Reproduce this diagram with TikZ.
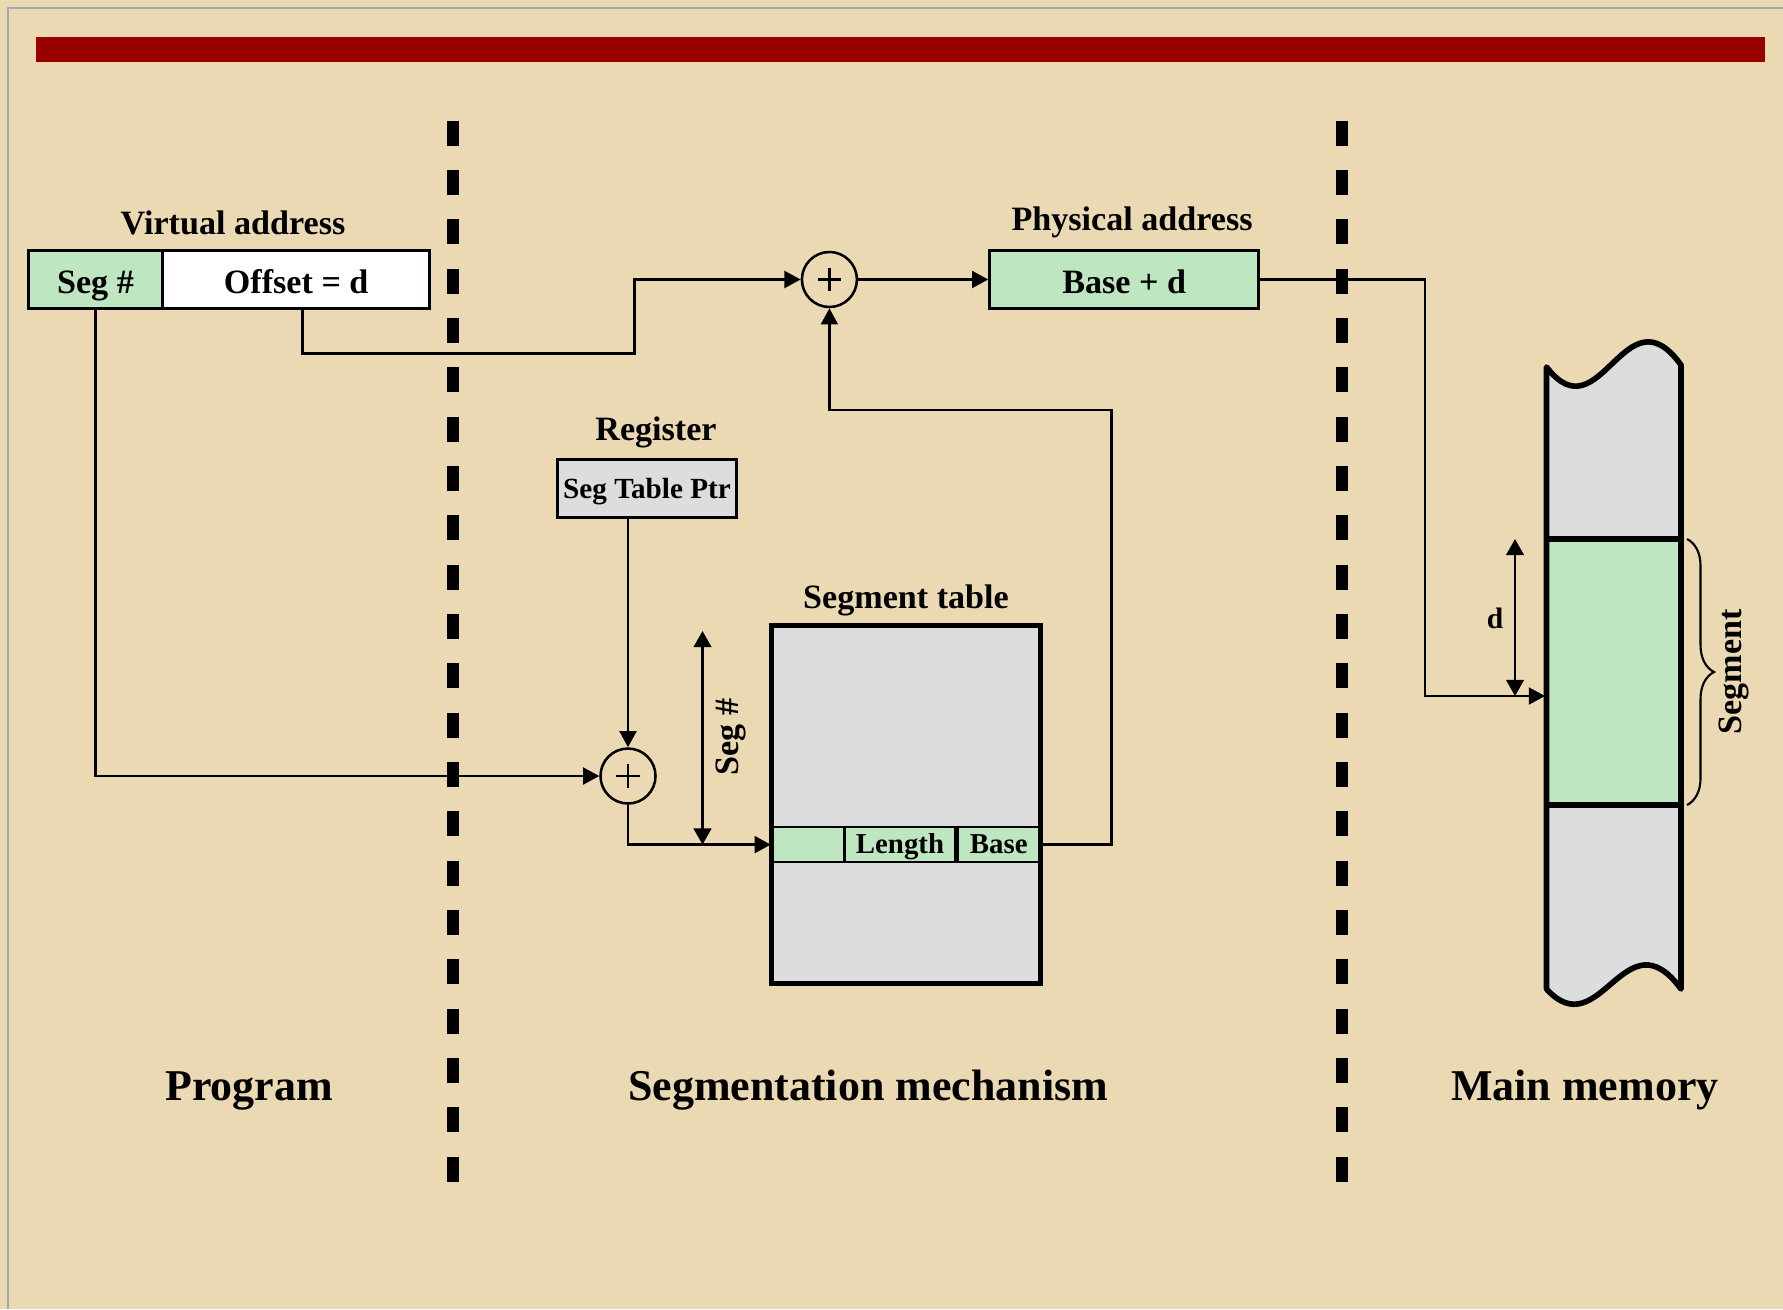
\documentclass[tikz,border=0pt]{standalone}
\usepackage{fontspec}
\setmainfont{Liberation Serif}
\usetikzlibrary{arrows.meta,decorations.pathreplacing,calc}
\definecolor{bgbeige}{RGB}{234,217,178}
\definecolor{barred}{RGB}{153,0,0}
\definecolor{cellgreen}{RGB}{190,230,192}
\definecolor{cellgray}{RGB}{221,221,221}
\definecolor{framegray}{RGB}{165,168,172}
\begin{document}
\begin{tikzpicture}[x=0.01cm,y=-0.01cm,
  txt/.style={font=\fontsize{9.7}{11}\selectfont\bfseries, inner sep=0},
  big/.style={font=\fontsize{12.5}{14}\selectfont\bfseries, inner sep=0},
  box/.style={draw, line width=0.85pt, inner sep=0, text height=1.9ex, text depth=0.2ex, font=\fontsize{9.7}{11}\selectfont\bfseries},
  cell/.style={draw, line width=0.7pt, fill=cellgreen, inner sep=0, minimum height=0.35cm, text height=1.45ex, text depth=0.35ex, font=\fontsize{8.2}{10}\selectfont\bfseries},
  conn/.style={line width=0.72pt},
  arr/.style={conn, -{Triangle[length=4.6pt,width=4.8pt]}},
  darr/.style={conn, {Triangle[length=4.6pt,width=5pt]}-{Triangle[length=4.6pt,width=5pt]}},
  sep/.style={line width=0.123cm, dash pattern=on 0.25cm off 0.243cm},
  adder/.style={circle, draw, line width=0.72pt, minimum size=0.55cm, inner sep=0},
  memline/.style={line width=1.6pt, line join=round}
]
% background and frame
\fill[bgbeige] (0,0) rectangle (1783,1309);
\useasboundingbox (0,0) rectangle (1783,1309);
\draw[framegray, line width=0.6pt] (8,1309) -- (8,8.3) -- (1783,8.3);
\fill[barred] (36.4,37) rectangle (1764.5,62);

% separators
\draw[sep] (452.8,120.7) -- (452.8,1183);
\draw[sep] (1342,120.7) -- (1342,1183);

% virtual address
\node[txt, anchor=base] (vlab) at (233,234) {Virtual address};
\node[box, fill=cellgreen, minimum width=1.342cm, minimum height=0.58cm] (segno) at (95.5,279.5) {Seg \#};
\node[box, fill=white, minimum width=2.672cm, minimum height=0.58cm] (offs) at (296.2,279.5) {Offset = d};

% physical address
\node[txt, anchor=base] (plab) at (1132,230) {Physical address};
\node[box, fill=cellgreen, minimum width=2.688cm, minimum height=0.576cm] (phys) at (1124.2,279.5) {Base + d};

% adders
\node[adder] (p2) at (829.4,279.5) {};
\draw[conn] ([xshift=-0.117cm]p2.center) -- ([xshift=0.117cm]p2.center);
\draw[conn] ([yshift=-0.117cm]p2.center) -- ([yshift=0.117cm]p2.center);
\node[adder] (p1) at (628,776) {};
\draw[conn] ([xshift=-0.117cm]p1.center) -- ([xshift=0.117cm]p1.center);
\draw[conn] ([yshift=-0.117cm]p1.center) -- ([yshift=0.117cm]p1.center);

% register
\node[txt, anchor=base] (rlab) at (656,440) {Register};
\node[box, fill=cellgray, minimum width=1.79cm, minimum height=0.583cm, text height=1.6ex, text depth=0.3ex, font=\fontsize{8.3}{10}\selectfont\bfseries] (reg) at (647,488.2) {Seg Table Ptr};

% segment table
\node[txt, anchor=base] (stlab) at (906,608) {Segment table};
\node[draw=none, fill=cellgray, minimum width=2.68cm, minimum height=3.558cm, inner sep=0] (stab) at (906,804.6) {};
\node[cell, minimum width=0.744cm] (rc1) at (809.2,844.6) {};
\node[cell, minimum width=1.111cm] (rlen) at (900,844.6) {Length};
\node[cell, minimum width=0.825cm] (rbase) at (998.75,844.6) {Base};
\draw[line width=1.4pt] (stab.north west) rectangle (stab.south east);

% memory
\coordinate (memin) at (1545,696);
\fill[cellgray] (1546.5,367) .. controls (1600,437) and (1625,287) .. (1681,365) -- (1681,989) .. controls (1625,912.6) and (1600,1047.6) .. (1546.5,989) -- cycle;
\fill[cellgreen] (1546.5,539) rectangle (1681,805);
\draw[memline] (1546.5,367) .. controls (1600,437) and (1625,287) .. (1681,365) -- (1681,989) .. controls (1625,912.6) and (1600,1047.6) .. (1546.5,989) -- cycle;
\draw[memline] (1546.5,539) -- (1681,539);
\draw[memline] (1546.5,805) -- (1681,805);
\draw[line width=0.6pt, decorate, decoration={brace, amplitude=0.27cm}] (1687,539) -- (1687,805);
\node[txt, rotate=90] (seglab2) at (1734,672) {Segment};
\draw[darr] (1515,539) -- (1515,696);
\node[font=\fontsize{8.4}{9}\selectfont\bfseries, inner sep=0] (dlab) at (1495,618) {d};

% connectors
\draw[arr] (segno.south) |- (p1.west);
\draw[arr] ([xshift=0.063cm]offs.south) |- (634.5,353.6) |- (p2.west);
\draw[arr] (p2.east) -- (phys.west);
\draw[arr] (phys.east) -- (1425,279.5) |- (memin);
\draw[arr] (p1 |- reg.south) -- (p1.north);
\draw[arr] (p1.south) |- (rc1.west);
\draw[darr] (702.5,631) -- (702.5,844.6);
\node[txt, rotate=90] (seglab) at (731,737) {Seg \#};
\draw[arr] (rbase.east) -- (1111.7,844.6) |- (829.4,410) -- (p2.south);

% section labels
\node[big, anchor=base] (prog) at (249,1100.7) {Program};
\node[big, anchor=base] (segmech) at (868,1100.7) {Segmentation mechanism};
\node[big, anchor=base] (mainmem) at (1584.8,1100.7) {Main memory};
\end{tikzpicture}
\end{document}
